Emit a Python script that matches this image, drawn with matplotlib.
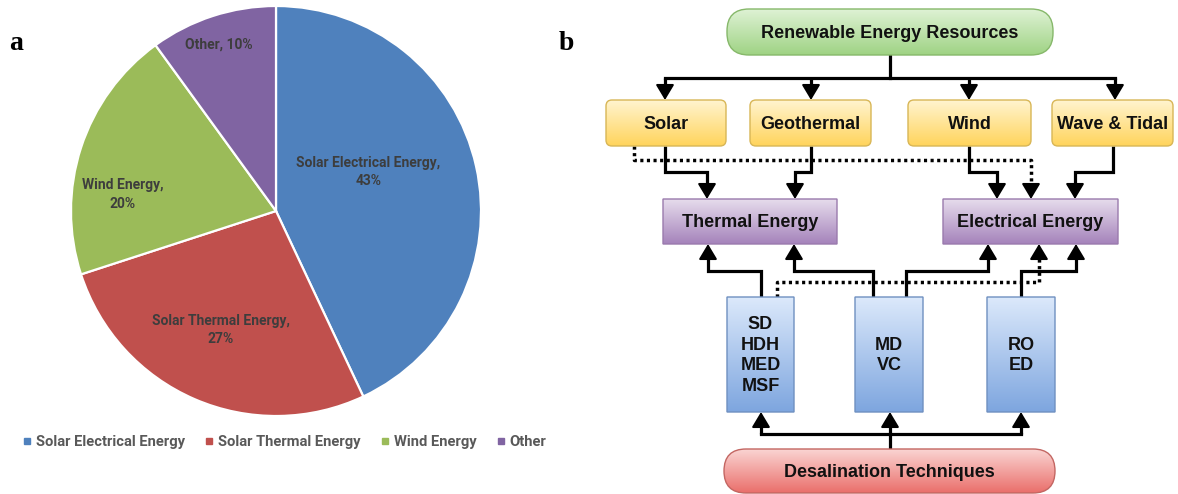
import numpy as np
import matplotlib
matplotlib.use("Agg")
import matplotlib.pyplot as plt
from matplotlib.patches import FancyBboxPatch
from matplotlib.lines import Line2D

# ---------------- data ----------------
categories = ["Solar Electrical Energy", "Solar Thermal Energy", "Wind Energy", "Other"]
shares = [43, 27, 20, 10]
pie_colors = ["#4F81BD", "#C0504D", "#9BBB59", "#8064A2"]
slice_labels = ["Solar Electrical Energy,\n43%", "Solar Thermal Energy,\n27%",
                "Wind Energy,\n20%", "Other, 10%"]

resources = ["Solar", "Geothermal", "Wind", "Wave & Tidal"]
energy_forms = ["Thermal Energy", "Electrical Energy"]
techniques = ["SD\nHDH\nMED\nMSF", "MD\nVC", "RO\nED"]
top_title = "Renewable Energy Resources"
bottom_title = "Desalination Techniques"

W, H = 1178, 494
fig = plt.figure(figsize=(W / 100, H / 100), dpi=100)
LABEL_FONT = "Roboto"

# ---------------- panel a: pie ----------------
cx, cy, R = 276, 211, 205
ax_pie = fig.add_axes([(cx - R) / W, (H - cy - R) / H, 2 * R / W, 2 * R / H])
wedges, _ = ax_pie.pie(shares, colors=pie_colors, startangle=90, counterclock=False,
                       wedgeprops=dict(edgecolor="white", linewidth=1.6))
ax_pie.set_xlim(-1, 1)
ax_pie.set_ylim(-1, 1)
ax_pie.set_aspect("equal")
label_pos = [(0.45, 0.19), (-0.27, -0.58), (-0.75, 0.08), (-0.28, 0.81)]
for txt, (lx, ly) in zip(slice_labels, label_pos):
    ax_pie.text(lx, ly, txt, ha="center", va="center", multialignment="center",
                fontsize=10, fontweight="bold", color="#3d3d3d", family=LABEL_FONT,
                linespacing=1.4)

handles = [Line2D([0], [0], marker="s", linestyle="none", markersize=4.5,
                  markerfacecolor=c, markeredgecolor=c) for c in pie_colors]
fig.legend(handles, categories, loc="center", bbox_to_anchor=(283 / W, 1 - 442 / H),
           ncol=4, frameon=False, handletextpad=0.1, columnspacing=1.15,
           handlelength=1.0, prop=dict(family=LABEL_FONT, weight="bold", size=10.6),
           labelcolor="#595959")

# ---------------- panel b: flowchart ----------------
ax = fig.add_axes([0, 0, 1, 1])
ax.set_xlim(0, W)
ax.set_ylim(H, 0)
ax.axis("off")
ax.patch.set_alpha(0)

def box(x0, y0, x1, y1, top, bottom, edge, text, rounding=6, fs=13, ls=1.2):
    p = FancyBboxPatch((x0, y0), x1 - x0, y1 - y0,
                       boxstyle=f"round,pad=0,rounding_size={rounding}",
                       facecolor="none", edgecolor=edge, linewidth=1.0, zorder=3)
    ax.add_patch(p)
    t = np.array(matplotlib.colors.to_rgb(top))
    b = np.array(matplotlib.colors.to_rgb(bottom))
    f = np.linspace(0, 1, 64)[:, None]
    grad = (t[None, :] * (1 - f) + b[None, :] * f)[:, None, :]
    im = ax.imshow(grad, extent=(x0, x1, y1, y0), origin="upper", aspect="auto",
                   zorder=2, interpolation="bilinear")
    im.set_clip_path(p)
    ax.text((x0 + x1) / 2, (y0 + y1) / 2 + 1, text, ha="center", va="center",
            fontsize=fs, fontweight="bold", color="#111111",
            family="Liberation Sans", zorder=4, linespacing=ls)

def arrow(points, dotted=False):
    xs = [p[0] for p in points]
    ys = [p[1] for p in points]
    tx, ty = points[-1]
    px, py = points[-2]
    d = np.hypot(tx - px, ty - py)
    ux, uy = (tx - px) / d, (ty - py) / d
    xs[-1] = tx - ux * 8
    ys[-1] = ty - uy * 8
    ls = (0, (0.9, 1.0)) if dotted else "-"
    ax.plot(xs, ys, color="black", lw=2.3 if not dotted else 2.5, linestyle=ls,
            solid_joinstyle="miter", solid_capstyle="butt", zorder=1)
    ax.annotate("", xy=(tx, ty), xytext=(tx - ux * 12, ty - uy * 12),
                arrowprops=dict(arrowstyle="-|>,head_length=0.55,head_width=0.33",
                                color="black", lw=1.5,
                                mutation_scale=17, shrinkA=0, shrinkB=0),
                zorder=5)

# boxes
box(727, 9, 1053, 55, "#def2d4", "#9fd384", "#86b86a", top_title, rounding=22)
res_x = [(606, 726), (750, 871), (908, 1031), (1052, 1173)]
for (x0, x1), name in zip(res_x, resources):
    box(x0, 100, x1, 146, "#fff4cf", "#ffd45c", "#d8b656", name, rounding=6)
en_x = [(663, 837), (943, 1118)]
for (x0, x1), name in zip(en_x, energy_forms):
    box(x0, 199, x1, 244, "#e6dcec", "#a583bb", "#9a7aad", name, rounding=0)
tech_x = [(727, 794), (855, 923), (987, 1055)]
for (x0, x1), name in zip(tech_x, techniques):
    box(x0, 297, x1, 412, "#dce9fb", "#7ea6df", "#6f90c0", name, rounding=0, ls=1.3)
box(724, 449, 1055, 493, "#fad4d2", "#ea6f6b", "#c36662", bottom_title, rounding=22)

# top tree
ax.plot([890, 890], [55, 78], color="black", lw=2.3, zorder=1)
ax.plot([665, 1115], [78, 78], color="black", lw=2.3, solid_capstyle="projecting", zorder=1)
for x in [665, 811, 969, 1115]:
    arrow([(x, 78), (x, 100)])

# resources -> energy forms
arrow([(665, 146), (665, 172), (707, 172), (707, 199)])
arrow([(811, 146), (811, 172), (795, 172), (795, 199)])
arrow([(969, 146), (969, 172), (997, 172), (997, 199)])
arrow([(1113, 146), (1113, 172), (1075, 172), (1075, 199)])
arrow([(634, 146), (634, 160), (1031, 160), (1031, 199)], dotted=True)

# techniques -> energy forms
arrow([(761, 297), (761, 271), (708, 271), (708, 244)])
arrow([(873, 297), (873, 271), (794, 271), (794, 244)])
arrow([(906, 297), (906, 271), (988, 271), (988, 244)])
arrow([(1021, 297), (1021, 271), (1076, 271), (1076, 244)])
arrow([(777, 297), (777, 282), (1039, 282), (1039, 244)], dotted=True)

# bottom tree
ax.plot([890, 890], [449, 434], color="black", lw=2.3, zorder=1)
ax.plot([761, 1021], [434, 434], color="black", lw=2.3, solid_capstyle="projecting", zorder=1)
for x in [761, 890, 1021]:
    arrow([(x, 434), (x, 412)])

# panel letters
ax.text(16, 43, "a", ha="center", va="center", fontsize=20, fontweight="bold",
        family="Liberation Serif", color="black")
ax.text(566, 43, "b", ha="center", va="center", fontsize=20, fontweight="bold",
        family="Liberation Serif", color="black")

fig.savefig("out.png", dpi=100)
